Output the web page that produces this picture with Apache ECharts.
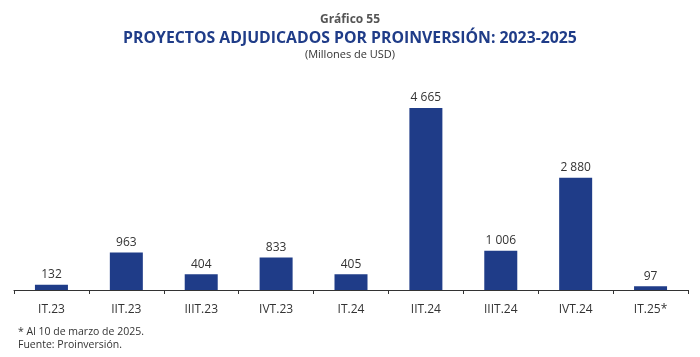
<!DOCTYPE html>
<html><head><meta charset="utf-8">
<script src="https://cdn.jsdelivr.net/npm/echarts@6/dist/echarts.min.js"></script>
<style>html,body{margin:0;padding:0;background:#fff}#c{width:700px;height:357px}</style>
</head><body><div id="c"></div>
<script>
const categories = ['IT.23','IIT.23','IIIT.23','IVT.23','IT.24','IIT.24','IIIT.24','IVT.24','IT.25*'];
const values = [132, 963, 404, 833, 405, 4665, 1006, 2880, 97];
const fmt = v => String(v).replace(/\B(?=(\d{3})+(?!\d))/g, ' ');
const FONT = '"Open Sans", "Noto Sans", sans-serif';
const chart = echarts.init(document.getElementById('c'));
chart.setOption({
  animation: false,
  textStyle: { fontFamily: FONT },
  title: [
    { text: 'Gráfico 55', left: 'center', top: 9, textStyle: { fontFamily: FONT, fontSize: 12, fontWeight: 'bold', color: '#555' } },
    { text: 'PROYECTOS ADJUDICADOS POR PROINVERSIÓN: 2023-2025', left: 'center', top: 25, textStyle: { fontFamily: FONT, fontSize: 15.8, fontWeight: 'bold', color: '#1f3c88' } },
    { text: '(Millones de USD)', left: 'center', top: 44, textStyle: { fontFamily: FONT, fontSize: 11, fontWeight: 'normal', color: '#333' } },
    { text: '* Al 10 de marzo de 2025.', left: 13, top: 322, textStyle: { fontFamily: FONT, fontSize: 10.5, fontWeight: 'normal', color: '#333' } },
    { text: 'Fuente: Proinversión.', left: 13, top: 335, textStyle: { fontFamily: FONT, fontSize: 10.5, fontWeight: 'normal', color: '#333' } }
  ],
  grid: { left: 14, right: 12, top: 95, bottom: 67, containLabel: false },
  xAxis: {
    type: 'category', data: categories,
    axisLine: { lineStyle: { color: '#333', width: 1 } },
    axisTick: { show: true, length: 4, lineStyle: { color: '#333' } },
    axisLabel: { fontFamily: FONT, fontSize: 12, color: '#333', margin: 14 }
  },
  yAxis: { type: 'value', min: 0, max: 5000, show: false, splitLine: { show: false } },
  series: [{
    type: 'bar', data: values, barWidth: 33,
    itemStyle: { color: '#1f3c88' },
    label: { show: true, position: 'top', distance: 4, fontFamily: FONT, fontSize: 12, color: '#333', formatter: p => fmt(p.value) }
  }]
});
</script></body></html>
